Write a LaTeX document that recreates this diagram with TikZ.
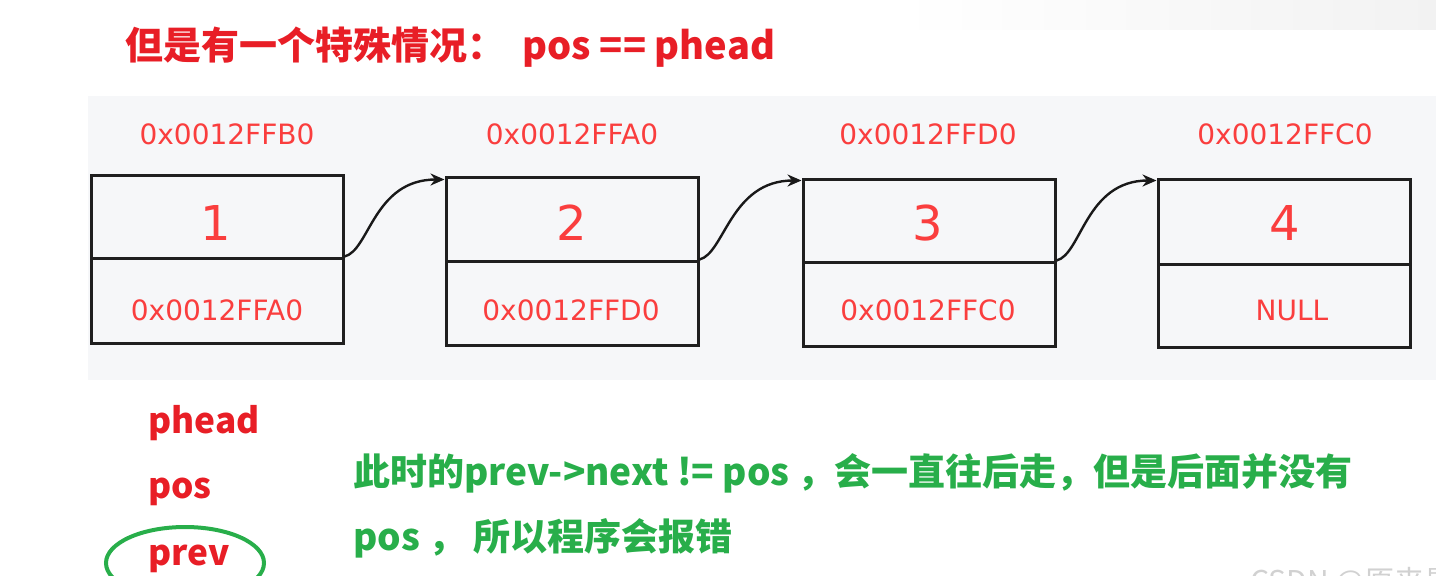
\documentclass[tikz,border=0pt]{standalone}
\usepackage{fontspec}
\setmainfont{DejaVu Sans}
\newfontfamily\cjk{Noto Sans CJK SC}
\usetikzlibrary{arrows.meta,fadings,calc}
\definecolor{addrred}{RGB}{250,62,62}
\definecolor{titlered}{RGB}{232,30,38}
\definecolor{okgreen}{RGB}{40,174,74}
\definecolor{panel}{RGB}{246,247,249}
\tikzfading[name=fadeleft, left color=transparent!100, right color=transparent!0]
\begin{document}
\begin{tikzpicture}[x=0.5pt,y=-0.5pt,
  cell/.style={draw=black!88,line width=1.5pt,minimum width=126pt,inner sep=0pt},
  addr/.style={text=addrred,font=\fontsize{14}{16}\selectfont,inner sep=0pt,anchor=base},
  num/.style={text=addrred,font=\fontsize{24}{28}\selectfont,inner sep=0pt,anchor=base},
  link/.style={line width=1.2pt,draw=black!90,-{Stealth[length=7pt,width=6pt]}},
  redtitle/.style={text=titlered,font=\cjk\bfseries\fontsize{19}{22}\selectfont,inner sep=0pt,anchor=base west},
  varlabel/.style={text=titlered,font=\cjk\bfseries\fontsize{17.6}{22}\selectfont,inner sep=0pt,anchor=base west},
  note/.style={text=okgreen,font=\cjk\bfseries\fontsize{18.5}{22}\selectfont,inner sep=0pt,anchor=base west},
  wmark/.style={text=black!18,font=\cjk\fontsize{15}{18}\selectfont,inner sep=0pt,anchor=base west}
]
\useasboundingbox (0,0) rectangle (1436,575);
\clip (0,0) rectangle (1436,575);
% faint shadow at top right
\fill[black!5,path fading=fadeleft] (900,0) rectangle (1436,30);
% grey panel
\fill[panel] (88,96) rectangle (1436,380);

% title
\node[redtitle] (title) at (125,59) {但是有一个特殊情况：\ \ pos == phead};

% boxes
\node[cell,minimum height=41.5pt] (b1t) at (217,216.5) {};
\node[cell,minimum height=42.5pt] (b1b) at (217,300.5) {};
\node[cell,minimum height=42pt] (b2t) at (572,219) {};
\node[cell,minimum height=42pt] (b2b) at (572,303) {};
\node[cell,minimum height=41.5pt] (b3t) at (929,220.5) {};
\node[cell,minimum height=42pt] (b3b) at (929,304) {};
\node[cell,minimum height=42.5pt] (b4t) at (1284,221.5) {};
\node[cell,minimum height=41.5pt] (b4b) at (1284,305.5) {};

% addresses above
\node[addr] (a1) at (227,144) {0x0012FFB0};
\node[addr] (a2) at (572,144) {0x0012FFA0};
\node[addr] (a3) at (928,144) {0x0012FFD0};
\node[addr] (a4) at (1285,144) {0x0012FFC0};

% values
\node[num] (v1) at (216,240) {1};
\node[num] (v2) at (572,240) {2};
\node[num] (v3) at (928,240) {3};
\node[num] (v4) at (1285,240) {4};

% next pointers
\node[addr] (p1) at (217,320) {0x0012FFA0};
\node[addr] (p2) at (571,320) {0x0012FFD0};
\node[addr] (p3) at (928,320) {0x0012FFC0};
\node[addr] (p4) at (1292,320) {NULL};

% links
\coordinate (e2) at ($(b2t.north west)+(0,4)$);
\coordinate (e3) at ($(b3t.north west)+(0,3)$);
\coordinate (e4) at ($(b4t.north west)+(0,3)$);
\draw[link] (b1b.north east) .. controls +(25,-6) and +(-71,0) .. (e2);
\draw[link] (b2b.north east) .. controls +(25,-6) and +(-71,0) .. (e3);
\draw[link] (b3b.north east) .. controls +(25,-6) and +(-71,0) .. (e4);

% variable labels
\node[varlabel] (phead) at (148,433) {phead};
\node[varlabel] (pos) at (148,498) {pos};
\node[varlabel] (prev) at (148,565) {prev};
\draw[okgreen,line width=2pt] (185,563) ellipse [x radius=39.5pt, y radius=18pt];

% green note
\node[note] (n1) at (353,485) {此时的prev->next != pos ，会一直往后走，但是后面并没有};
\node[note] (n2) at (353,550) {pos ， 所以程序会报错};

% watermark
\node[wmark] (wm) at (1250,592) {CSDN @原来是};
\end{tikzpicture}
\end{document}
